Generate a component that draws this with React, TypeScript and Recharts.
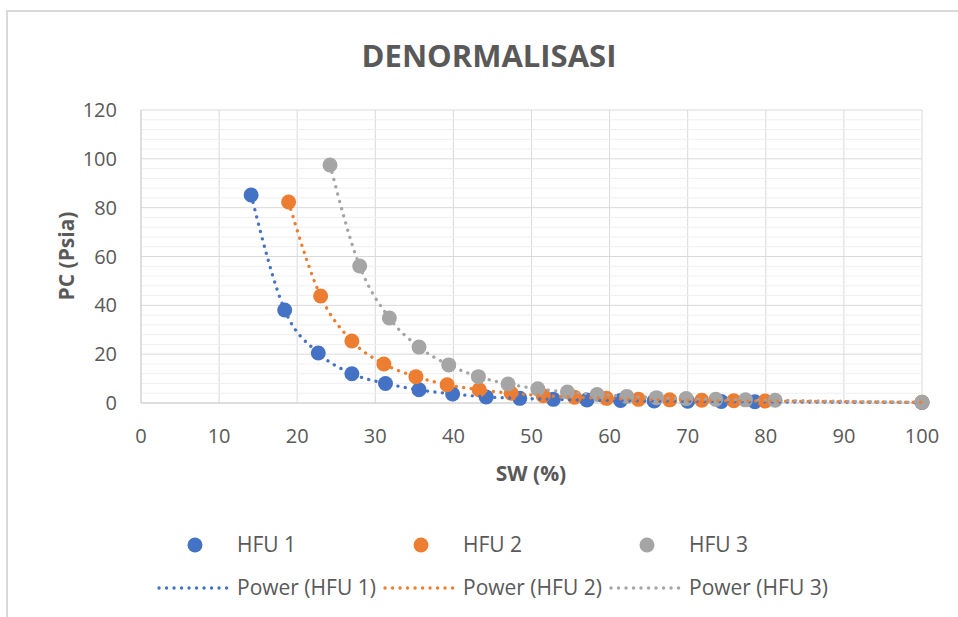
import { ScatterChart, Scatter, XAxis, YAxis, CartesianGrid, ReferenceLine } from 'recharts';

// values
const SW_HFU1 = [14.1, 18.4, 22.7, 27.0, 31.3, 35.6, 39.9, 44.2, 48.5, 52.8, 57.1, 61.4, 65.7, 70.0, 74.3, 78.6, 100];
const PC_HFU1 = [85.2, 38.1, 20.5, 12.0, 8.0, 5.4, 3.7, 2.5, 1.9, 1.5, 1.2, 1.0, 0.8, 0.7, 0.6, 0.5, 0.2];

const SW_HFU2 = [18.9, 23.0, 27.0, 31.1, 35.2, 39.2, 43.3, 47.4, 51.5, 55.5, 59.6, 63.7, 67.7, 71.8, 75.9, 79.9, 100];
const PC_HFU2 = [82.3, 43.8, 25.4, 16.0, 10.8, 7.5, 5.4, 4.0, 3.0, 2.4, 1.9, 1.5, 1.3, 1.1, 0.9, 0.8, 0.3];

const SW_HFU3 = [24.2, 28.0, 31.8, 35.6, 39.4, 43.2, 47.0, 50.8, 54.6, 58.4, 62.2, 66.0, 69.8, 73.6, 77.4, 81.2, 100];
const PC_HFU3 = [97.5, 56.1, 34.8, 22.9, 15.6, 10.8, 7.8, 5.8, 4.5, 3.5, 2.7, 2.2, 1.8, 1.5, 1.3, 1.1, 0.3];

const SERIES_NAMES = ['HFU 1', 'HFU 2', 'HFU 3'];
const X_TICKS = [0, 10, 20, 30, 40, 50, 60, 70, 80, 90, 100];
const Y_TICKS = [0, 20, 40, 60, 80, 100, 120];
const Y_MINOR = [4, 8, 12, 16, 24, 28, 32, 36, 44, 48, 52, 56, 64, 68, 72, 76, 84, 88, 92, 96, 104, 108, 112, 116];

const COLORS = ['#4472C4', '#ED7D31', '#A5A5A5'];
const TEXT = '#595959';
const FONT = '"Open Sans", sans-serif';

const toPoints = (xs: number[], ys: number[]) => xs.map((x, i) => ({ x, y: ys[i] }));
const series = [toPoints(SW_HFU1, PC_HFU1), toPoints(SW_HFU2, PC_HFU2), toPoints(SW_HFU3, PC_HFU3)];

// round dots for the power trendlines
const DOTTED = '0.1 7.4';
const DOT_W = 3.3;

export default function App() {
  // legend x positions (text start) for the three columns
  const cols = [237, 463, 689];

  return (
    <div style={{ position: 'absolute', left: 0, top: 0, width: 958, height: 617, overflow: 'hidden', background: '#fff', fontFamily: FONT }}>
      {/* chart frame */}
      <div style={{ position: 'absolute', left: 6, top: 10, width: 1000, height: 700, border: '2px solid #d9d9d9' }} />

      <ScatterChart width={958} height={617} margin={{ top: 110, right: 36, bottom: 184, left: 81 }} style={{ position: 'absolute', left: 0, top: 0 }}>
        {Y_MINOR.map(v => (
          <ReferenceLine key={v} y={v} stroke="#efefef" strokeWidth={1} />
        ))}
        <CartesianGrid stroke="#d9d9d9" />
        <XAxis
          type="number"
          dataKey="x"
          domain={[0, 100]}
          ticks={X_TICKS}
          height={30}
          tickLine={false}
          tickMargin={20}
          axisLine={{ stroke: '#d0d0d0' }}
          tick={{ fill: TEXT, fontSize: 20, fontFamily: FONT }}
        />
        <YAxis
          type="number"
          dataKey="y"
          domain={[0, 120]}
          ticks={Y_TICKS}
          width={60}
          tickLine={false}
          tickMargin={18}
          axisLine={{ stroke: '#d0d0d0' }}
          tick={{ fill: TEXT, fontSize: 20, fontFamily: FONT }}
        />
        {series.map((pts, i) => (
          <Scatter
            key={`pts-${i}`}
            name={SERIES_NAMES[i]}
            data={pts}
            isAnimationActive={false}
            shape={(p: any) => <circle cx={p.cx} cy={p.cy} r={7.5} fill={COLORS[i]} />}
          />
        ))}
        {series.map((pts, i) => (
          <Scatter
            key={`trend-${i}`}
            name={`Power (${SERIES_NAMES[i]})`}
            data={pts}
            isAnimationActive={false}
            lineJointType="monotoneX"
            line={{ stroke: COLORS[i], strokeWidth: DOT_W, strokeDasharray: DOTTED, strokeLinecap: 'round' }}
            shape={() => <g />}
          />
        ))}
      </ScatterChart>

      {/* title, axis titles and legend */}
      <svg width={958} height={617} style={{ position: 'absolute', left: 0, top: 0, pointerEvents: 'none' }} fontFamily={FONT}>
        <text x={489} y={67} textAnchor="middle" fontSize={31} fontWeight={700} fill={TEXT}>DENORMALISASI</text>
        <text transform="translate(74,256) rotate(-90)" textAnchor="middle" fontSize={21} fontWeight={700} fill={TEXT}>PC (Psia)</text>
        <text x={531} y={481} textAnchor="middle" fontSize={21} fontWeight={700} fill={TEXT}>SW (%)</text>

        {SERIES_NAMES.map((name, i) => (
          <g key={name}>
            <circle cx={cols[i] - 42} cy={545} r={7.5} fill={COLORS[i]} />
            <text x={cols[i]} y={552} fontSize={21} fill={TEXT}>{name}</text>
            <line x1={cols[i] - 78} y1={588} x2={cols[i] - 9} y2={588} stroke={COLORS[i]} strokeWidth={DOT_W} strokeDasharray={DOTTED} strokeLinecap="round" />
            <text x={cols[i]} y={595} fontSize={21} fill={TEXT}>{`Power (${name})`}</text>
          </g>
        ))}
      </svg>
    </div>
  );
}
